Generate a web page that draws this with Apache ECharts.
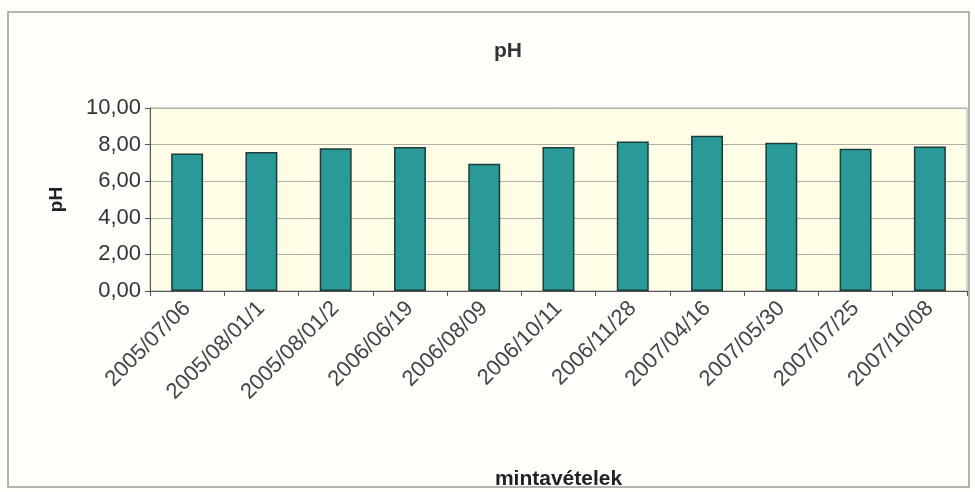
<!DOCTYPE html>
<html>
<head>
<meta charset="utf-8">
<script src="https://cdn.jsdelivr.net/npm/echarts@6/dist/echarts.min.js"></script>
<style>
  html, body { margin: 0; padding: 0; background: #ffffff; }
  #ph-chart { width: 975px; height: 492px; }
</style>
</head>
<body>
<div id="ph-chart"></div>
<script>
// mintavételi dátumok
var categories = ['2005/07/06', '2005/08/01/1', '2005/08/01/2', '2006/06/19', '2006/08/09',
    '2006/10/11', '2006/11/28', '2007/04/16', '2007/05/30', '2007/07/25', '2007/10/08'];
// pH értékek
var phValues = [7.52, 7.6, 7.8, 7.87, 6.95, 7.87, 8.17, 8.48, 8.1, 7.77, 7.9];
// y tengely
var yMin = 0, yMax = 10, yStep = 2;

var myChart = echarts.init(document.getElementById('ph-chart'));

var option = {
    backgroundColor: '#fffffb',
    animation: false,
    textStyle: { fontFamily: 'Liberation Sans, Arial, sans-serif' },
    // outer frame
    graphic: [{
        type: 'rect',
        shape: { x: 8, y: 12, width: 961, height: 475 },
        style: { fill: 'none', stroke: '#9a9a9a', lineWidth: 1.5 },
        silent: true
    }],
    title: {
        text: 'pH',
        left: 503,
        top: 36,
        textAlign: 'center',
        textStyle: { fontSize: 21, fontWeight: 'bold', color: '#333' }
    },
    grid: {
        left: 150,
        right: 8,
        top: 108,
        height: 183,
        backgroundColor: '#fffde6',
        borderColor: '#a8a8a8',
        borderWidth: 1,
        show: true
    },
    xAxis: {
        type: 'category',
        data: categories,
        name: 'mintavételek',
        nameLocation: 'middle',
        nameGap: 178,
        nameTextStyle: { fontSize: 21, fontWeight: 'bold', color: '#222' },
        axisLine: { lineStyle: { color: '#555', width: 1 } },
        axisTick: { show: true, length: 5, lineStyle: { color: '#555' } },
        axisLabel: { rotate: 45, fontSize: 22, color: '#444', margin: 14, interval: 0 }
    },
    yAxis: {
        type: 'value',
        min: yMin,
        max: yMax,
        interval: yStep,
        name: 'pH',
        nameLocation: 'middle',
        nameGap: 84,
        nameRotate: 90,
        nameTextStyle: { fontSize: 19, fontWeight: 'bold', color: '#222' },
        axisLine: { show: true, lineStyle: { color: '#555' } },
        axisTick: { show: true, length: 5, lineStyle: { color: '#555' } },
        axisLabel: {
            fontSize: 22,
            color: '#333',
            margin: 9,
            formatter: function (v) { return v.toFixed(2).replace('.', ','); }
        },
        splitLine: { show: true, lineStyle: { color: '#b0b0a8', width: 1 } }
    },
    series: [{
        name: 'pH',
        type: 'bar',
        data: phValues,
        barWidth: '43%',
        itemStyle: { color: '#2a9a98', borderColor: '#1d3b3a', borderWidth: 1.5 }
    }]
};

myChart.setOption(option);
</script>
</body>
</html>
